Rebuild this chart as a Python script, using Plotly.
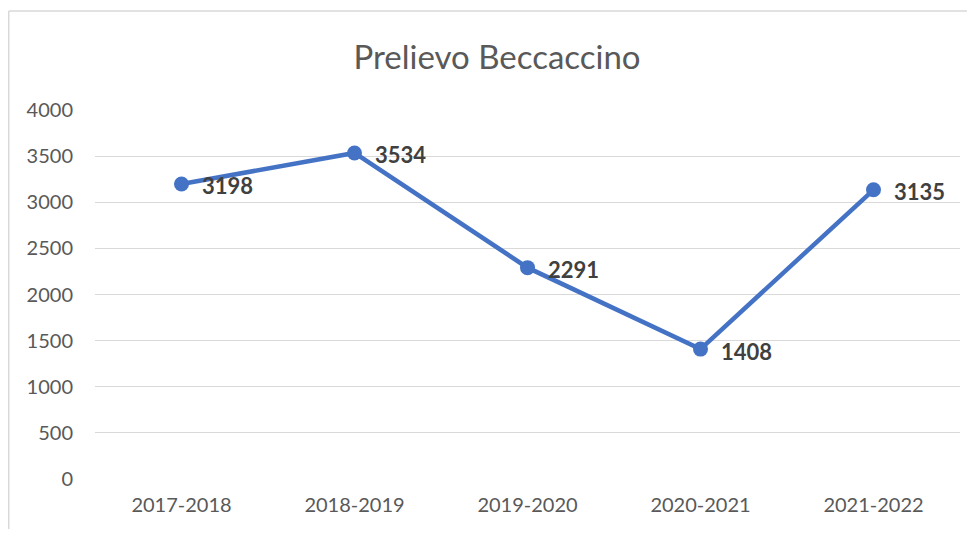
import plotly.graph_objects as go

seasons = ["2017-2018", "2018-2019", "2019-2020", "2020-2021", "2021-2022"]
prelievo = [3198, 3534, 2291, 1408, 3135]
y_ticks = [0, 500, 1000, 1500, 2000, 2500, 3000, 3500, 4000]

# page body adds an 8px margin, so the figure is a bit smaller than the window
W, H = 959, 521
L, T = 87, 102
PW, PH = 865, 369
R, B = W - L - PW, H - T - PH

BLUE = "#4472C4"
FONT = "Lato, sans-serif"

fig = go.Figure(
    go.Scatter(
        x=seasons, y=prelievo, mode="lines+markers",
        line=dict(color=BLUE, width=4.5),
        marker=dict(color=BLUE, size=15),
        hoverinfo="x+y",
    )
)

# bold value labels to the right of each point
for s, v in zip(seasons, prelievo):
    fig.add_annotation(x=s, y=v, text=f"<b>{v}</b>", showarrow=False,
                       xanchor="left", yanchor="middle", xshift=19, yshift=-2,
                       borderpad=0, font=dict(family=FONT, size=22, color="#404040"))

# outer chart frame (left + top edges visible in the reference)
fx0 = (0.75 - L) / PW
fy1 = (PH + T - 3) / PH
fig.add_shape(type="line", xref="paper", yref="paper", x0=fx0, x1=fx0, y0=-1, y1=fy1,
              line=dict(color="#d9d9d9", width=1.5))
fig.add_shape(type="line", xref="paper", yref="paper", x0=fx0, x1=2, y0=fy1, y1=fy1,
              line=dict(color="#d9d9d9", width=1.5))

fig.update_layout(
    width=W, height=H, margin=dict(l=L, r=R, t=T, b=B),
    plot_bgcolor="white", paper_bgcolor="white", showlegend=False,
    font=dict(family=FONT, color="#595959"),
    title=dict(text="Prelievo Beccaccino", x=489 / W, xanchor="center",
               y=1 - 49 / H, yanchor="middle", yref="container",
               font=dict(size=33, color="#595959")),
    xaxis=dict(range=[-0.5, 4.5], showgrid=False, zeroline=False, showline=False,
               ticks="", tickfont=dict(size=20), ticklabelstandoff=12),
    yaxis=dict(range=[0, 4000], tickvals=y_ticks, showgrid=True, gridcolor="#d9d9d9",
               gridwidth=1, zeroline=False, showline=False, ticks="",
               tickfont=dict(size=20), ticklabelstandoff=21),
)

fig.write_html("out.html")
